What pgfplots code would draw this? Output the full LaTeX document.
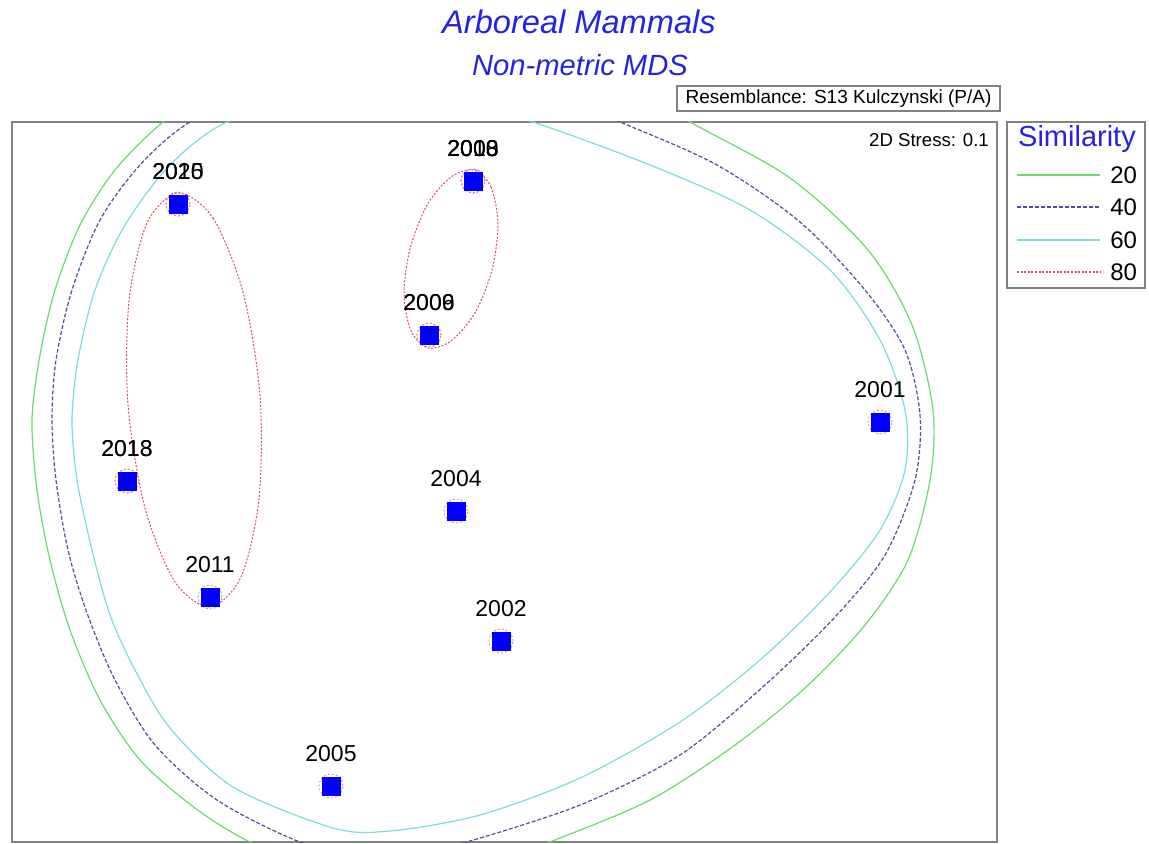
\documentclass[border=0pt]{standalone}
\usepackage{pgfplots}
\pgfplotsset{compat=1.18}
\usepackage{pgfplotstable}
\usepackage{fontspec}
\setmainfont{Liberation Sans}
\definecolor{titleblue}{RGB}{35,35,225}
\definecolor{c20}{RGB}{110,215,110}
\definecolor{c40}{RGB}{85,75,160}
\definecolor{c60}{RGB}{125,220,220}
\definecolor{c80}{RGB}{210,85,85}
\definecolor{frame}{RGB}{130,130,130}

\pgfplotstableread{
x y label
178 204 2015
178 204 2020
473 181 2003
473 181 2008
473 181 2010
429 335 2006
429 335 2009
127 481 2013
127 481 2018
210 597 2011
456 511 2004
501 641 2002
331 786 2005
880 422 2001
}\points

\pgfplotstableread{
x y
163 122
115 170
80 225
55 290
40 355
32 420
37 490
50 560
70 630
100 700
140 760
195 808
250 842
350 885
450 878
547 843
650 800
735 745
805 688
865 625
908 560
930 480
933 410
912 325
868 250
790 178
690 122
580 60
450 35
330 40
230 75
}\cgreen

\pgfplotstableread{
x y
190 122
140 165
100 220
72 290
56 360
52 420
56 480
68 550
87 613
115 680
155 745
217 800
300 842
380 862
463 843
580 805
680 755
765 685
835 617
885 555
915 480
920 415
905 350
865 290
800 222
717 165
620 122
520 82
400 65
280 80
}\cpurple

\pgfplotstableread{
x y
227 122
170 165
125 225
95 290
78 360
72 420
77 480
92 550
110 615
135 670
170 728
233 787
333 828
390 831
480 815
580 778
680 722
760 660
830 592
880 530
905 470
905 410
880 340
830 270
750 210
650 165
533 122
430 92
320 98
}\ccyan

\pgfplotstableread{
x y
178 193
213 218
243 292
260 395
259 499
241 577
210 607
175 582
145 508
128 405
129 301
147 223
}\ellA

\pgfplotstableread{
x y
474 170
491 187
498 224
492 270
475 313
451 341
428 348
411 331
404 294
410 249
427 205
451 177
}\ellB

\begin{document}
\begin{tikzpicture}
\begin{axis}[name=ax, at={(0,0)}, anchor=south west,
  scale only axis, width=492.5pt, height=360pt,
  xmin=12, xmax=997, ymin=122, ymax=842, y dir=reverse,
  xtick=\empty, ytick=\empty,
  axis line style={draw=frame, line width=0.9pt},
  clip=true]
\addplot[c20, line width=0.6pt, smooth cycle] table[x=x,y=y] {\cgreen};
\addplot[c40, line width=0.6pt, dash pattern=on 2pt off 1pt, smooth cycle] table[x=x,y=y] {\cpurple};
\addplot[c60, line width=0.6pt, smooth cycle] table[x=x,y=y] {\ccyan};
\addplot[c80, line width=0.5pt, dash pattern=on 1pt off 0.8pt, smooth cycle] table[x=x,y=y] {\ellA};
\addplot[c80, line width=0.5pt, dash pattern=on 1pt off 0.8pt, smooth cycle] table[x=x,y=y] {\ellB};
\addplot[only marks, mark=o, mark size=6pt, mark options={draw=c80!70, line width=0.4pt, dash pattern=on 1pt off 1pt}] table[x=x,y=y] {\points};
\addplot[only marks, mark=square*, mark size=4.5pt, mark options={fill=blue, draw=blue},
  nodes near coords, point meta=explicit symbolic,
  nodes near coords style={anchor=center, yshift=16pt, text=black, font=\fontsize{11.5}{13}\selectfont}]
  table[x=x,y=y,meta=label] {\points};
\end{axis}
\begin{scope}[shift={(ax.south west)}, x=0.5pt, y=-0.5pt, shift={(-12,-842)}]
  \node[text=titleblue, font=\fontsize{16.3}{18}\selectfont\itshape] at (579,22) {Arboreal Mammals};
  \node[text=titleblue, font=\fontsize{14.6}{16}\selectfont\itshape] at (580,65) {Non-metric MDS};
  \draw[frame, line width=0.7pt] (677,86) rectangle (1000,111);
  \node[font=\fontsize{9.5}{11}\selectfont] at (838.5,98.5) {Resemblance: S13 Kulczynski (P/A)};
  \node[font=\fontsize{9.3}{11}\selectfont] at (929,140) {2D Stress: 0.1};
  \draw[frame, line width=0.7pt] (1007,122) rectangle (1145,288);
  \node[text=titleblue, font=\fontsize{14.5}{16}\selectfont] at (1077,139) {Similarity};
  \draw[c20, line width=0.6pt] (1017,175) -- (1100,175);
  \draw[c40, line width=0.6pt, dash pattern=on 2pt off 1pt] (1017,207) -- (1100,207);
  \draw[c60, line width=0.6pt] (1017,240) -- (1100,240);
  \draw[c80, line width=0.6pt, dash pattern=on 1pt off 0.8pt] (1017,272) -- (1100,272);
  \node[anchor=east, font=\fontsize{12}{14}\selectfont] at (1144,175) {20};
  \node[anchor=east, font=\fontsize{12}{14}\selectfont] at (1144,207) {40};
  \node[anchor=east, font=\fontsize{12}{14}\selectfont] at (1144,240) {60};
  \node[anchor=east, font=\fontsize{12}{14}\selectfont] at (1144,272) {80};
  \pgfresetboundingbox
  \useasboundingbox (0,0) rectangle (1149,844);
\end{scope}
\end{tikzpicture}
\end{document}
